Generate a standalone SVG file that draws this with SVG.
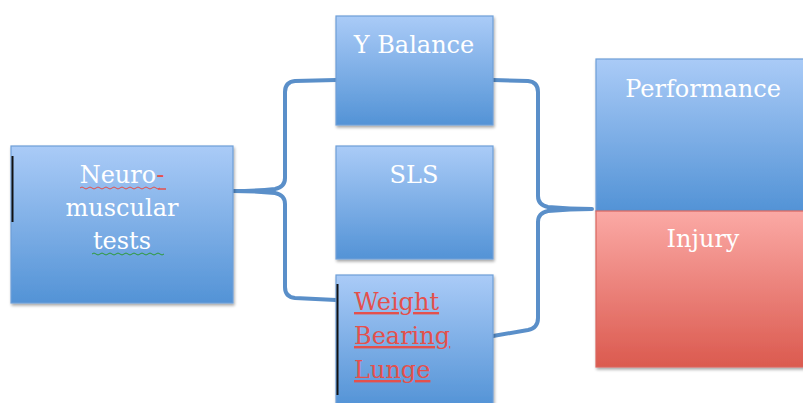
<svg xmlns="http://www.w3.org/2000/svg" width="803" height="403" viewBox="0 0 803 403">
<defs>
<linearGradient id="gb" x1="0" y1="0" x2="0" y2="1">
<stop offset="0" stop-color="#aacbf7"/>
<stop offset="1" stop-color="#5393d6"/>
</linearGradient>
<linearGradient id="gr" x1="0" y1="0" x2="0" y2="1">
<stop offset="0" stop-color="#fba9a5"/>
<stop offset="1" stop-color="#db5a4f"/>
</linearGradient>
<filter id="sh" x="-10%" y="-10%" width="120%" height="120%">
<feGaussianBlur in="SourceAlpha" stdDeviation="1.5"/>
<feOffset dx="1" dy="2" result="o"/>
<feComponentTransfer><feFuncA type="linear" slope="0.35"/></feComponentTransfer>
<feMerge><feMergeNode/><feMergeNode in="SourceGraphic"/></feMerge>
</filter>
</defs>
<style>
.box{fill:url(#gb);stroke:#6e9fd8;stroke-width:1.2;filter:url(#sh)}
.red{fill:url(#gr);stroke:#d9675f;stroke-width:1.2;filter:url(#sh)}
.t{font-family:"DejaVu Serif","Liberation Serif",serif;font-size:24px;fill:#ffffff;text-anchor:middle}
.rt{font-family:"DejaVu Serif","Liberation Serif",serif;font-size:24px;fill:#e4504c;text-decoration:underline}
.con{fill:none;stroke:#5a8fc9;stroke-width:4;stroke-linejoin:round;stroke-linecap:round}
.bar{stroke:#111;stroke-width:2}
</style>
<g id="connectors">
<path class="con" d="M336,80 L295,81 Q285,82 285,92 L285,178 Q285,187 275,189 Q255,191 233,191 Q255,191 275,193 Q285,195 285,204 L285,287 Q285,297 295,298 L336,300"/>
<path class="con" d="M493,80 L528,81 Q538,82 538,92 L538,196 Q538,205 548,207 Q570,209 592,209 Q570,209 548,211 Q538,213 538,222 L538,318 Q538,328 528,330 L493,336"/>
</g>
<g id="neuro">
<rect class="box" x="11" y="146" width="222" height="157"/>
<line class="bar" x1="12.5" y1="156" x2="12.5" y2="222"/>
<text class="t" x="122" y="183">Neuro<tspan fill="#e4504c">-</tspan></text>
<text class="t" x="122" y="216">muscular</text>
<text class="t" x="122" y="249">tests</text>
<path d="M80,188 q2,-2 4,0 t4,0 t4,0 t4,0 t4,0 t4,0 t4,0 t4,0 t4,0 t4,0 t4,0 t4,0 t4,0 t4,0 t4,0 t4,0 t4,0 t4,0 t4,0 t4,0" fill="none" stroke="#e4504c" stroke-width="1"/>
<line x1="158" y1="189" x2="166" y2="189" stroke="#e4504c" stroke-width="1.5"/>
<path d="M92,254 q2,-2 4,0 t4,0 t4,0 t4,0 t4,0 t4,0 t4,0 t4,0 t4,0 t4,0 t4,0 t4,0 t4,0 t4,0 t4,0 t4,0 t4,0 t4,0" fill="none" stroke="#2e9a3a" stroke-width="1"/>
</g>
<g id="ybalance">
<rect class="box" x="336" y="16" width="157" height="109"/>
<text class="t" x="414" y="53">Y Balance</text>
</g>
<g id="sls">
<rect class="box" x="336" y="146" width="157" height="113"/>
<text class="t" x="414" y="183">SLS</text>
</g>
<g id="wbl">
<rect class="box" x="336" y="275" width="157" height="132"/>
<line class="bar" x1="337.5" y1="284" x2="337.5" y2="395"/>
<text class="rt" x="354" y="310">Weight</text>
<text class="rt" x="354" y="344">Bearing</text>
<text class="rt" x="354" y="378">Lunge</text>
</g>
<g id="performance">
<rect class="box" x="596" y="59" width="214" height="152"/>
<text class="t" x="703" y="97">Performance</text>
</g>
<g id="injury">
<rect class="red" x="596" y="211" width="214" height="156"/>
<text class="t" x="703" y="247">Injury</text>
</g>
</svg>
